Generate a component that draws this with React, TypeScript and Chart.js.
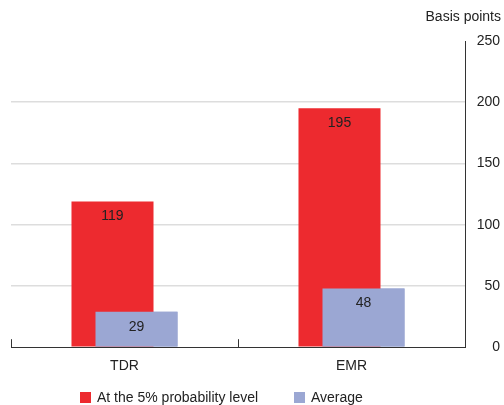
import React, { useEffect, useRef } from "react";
import { Chart, registerables } from "chart.js";

Chart.register(...registerables);

const categories = ["TDR", "EMR"];
const seriesLabels = ["At the 5% probability level", "Average"];
const tailValues = [119, 195];
const averageValues = [29, 48];
const yTicks = [0, 50, 100, 150, 200, 250];
const unitLabel = "Basis points";

const RED = "#ED2A2F";
const BLUE = "#9BA7D3";
const FONT = "'Liberation Sans', Arial, Helvetica, sans-serif";
const FS = 14;

const extrasPlugin = {
  id: "extras",
  afterDatasetsDraw(chart: any) {
    const ctx = chart.ctx;
    ctx.save();
    // draw the "Average" bars over the others, as in the reference
    chart.getDatasetMeta(1).data.forEach((el: any) => el.draw(ctx, chart.chartArea));
    ctx.font = `${FS}px ${FONT}`;
    ctx.fillStyle = "#222";
    ctx.textAlign = "center";
    ctx.textBaseline = "middle";
    chart.data.datasets.forEach((ds: any, di: number) => {
      const meta = chart.getDatasetMeta(di);
      meta.data.forEach((bar: any, i: number) => {
        ctx.fillText(String(ds.data[i]), bar.x, bar.y + 15);
      });
    });
    ctx.restore();
  },
  afterDraw(chart: any) {
    const ctx = chart.ctx;
    const area = chart.chartArea;
    const xs = chart.scales.x;
    ctx.save();
    ctx.strokeStyle = "#333";
    ctx.lineWidth = 1;
    const n = chart.data.labels.length;
    const step = xs.getPixelForValue(1) - xs.getPixelForValue(0);
    for (let i = 0; i <= n; i++) {
      const px = i < n ? xs.getPixelForValue(i) - step / 2 : xs.getPixelForValue(n - 1) + step / 2;
      const x = Math.round(px) + 0.5;
      ctx.beginPath();
      ctx.moveTo(x, area.bottom);
      ctx.lineTo(x, area.bottom - 8);
      ctx.stroke();
    }
    ctx.font = `${FS}px ${FONT}`;
    ctx.fillStyle = "#222";
    ctx.textAlign = "right";
    ctx.textBaseline = "middle";
    ctx.fillText(unitLabel, chart.width - 3, 17);
    const ly = 398;
    let lx = area.left + 69;
    chart.data.datasets.forEach((ds: any, di: number) => {
      ctx.fillStyle = ds.backgroundColor;
      ctx.fillRect(lx, ly - 6, 11, 11);
      ctx.fillStyle = "#222";
      ctx.textAlign = "left";
      ctx.fillText(ds.label, lx + 17, ly);
      lx += di === 0 ? 214 : 0;
    });
    ctx.restore();
  },
};

export default function App() {
  const ref = useRef<HTMLCanvasElement>(null);
  useEffect(() => {
    document.body.style.margin = "0";
    const chart = new Chart(ref.current!, {
      type: "bar",
      data: {
        labels: categories,
        datasets: [
          { label: seriesLabels[0], data: tailValues, backgroundColor: RED },
          { label: seriesLabels[1], data: averageValues, backgroundColor: BLUE },
        ],
      },
      options: {
        animation: false,
        responsive: false,
        devicePixelRatio: 1,
        layout: { padding: { left: 11, right: 4, top: 41, bottom: 19 } },
        datasets: { bar: { categoryPercentage: 0.2115, barPercentage: 3.417 } },
        plugins: { legend: { display: false }, tooltip: { enabled: false }, title: { display: false } },
        scales: {
          x: {
            grid: { display: false, drawTicks: false },
            border: { display: true, color: "#333", width: 1 },
            ticks: { color: "#222", font: { family: FONT, size: FS }, padding: 11 },
          },
          y: {
            position: "right",
            min: 0,
            max: 250,
            afterBuildTicks: (s: any) => {
              s.ticks = yTicks.map((v) => ({ value: v }));
            },
            afterFit: (s: any) => {
              s.width = 35;
            },
            grid: {
              drawTicks: false,
              color: (c: any) => (c.tick && (c.tick.value === 0 || c.tick.value === 250) ? "rgba(0,0,0,0)" : "#DDDDDD"),
              lineWidth: 1.5,
            },
            border: { display: true, color: "#333", width: 1 },
            ticks: { color: "#222", font: { family: FONT, size: FS }, padding: 8, crossAlign: "far" },
          },
        },
      },
      plugins: [extrasPlugin],
    });
    return () => chart.destroy();
  }, []);
  return (
    <div style={{ width: 504, height: 405 }}>
      <canvas ref={ref} width={504} height={405} />
    </div>
  );
}
